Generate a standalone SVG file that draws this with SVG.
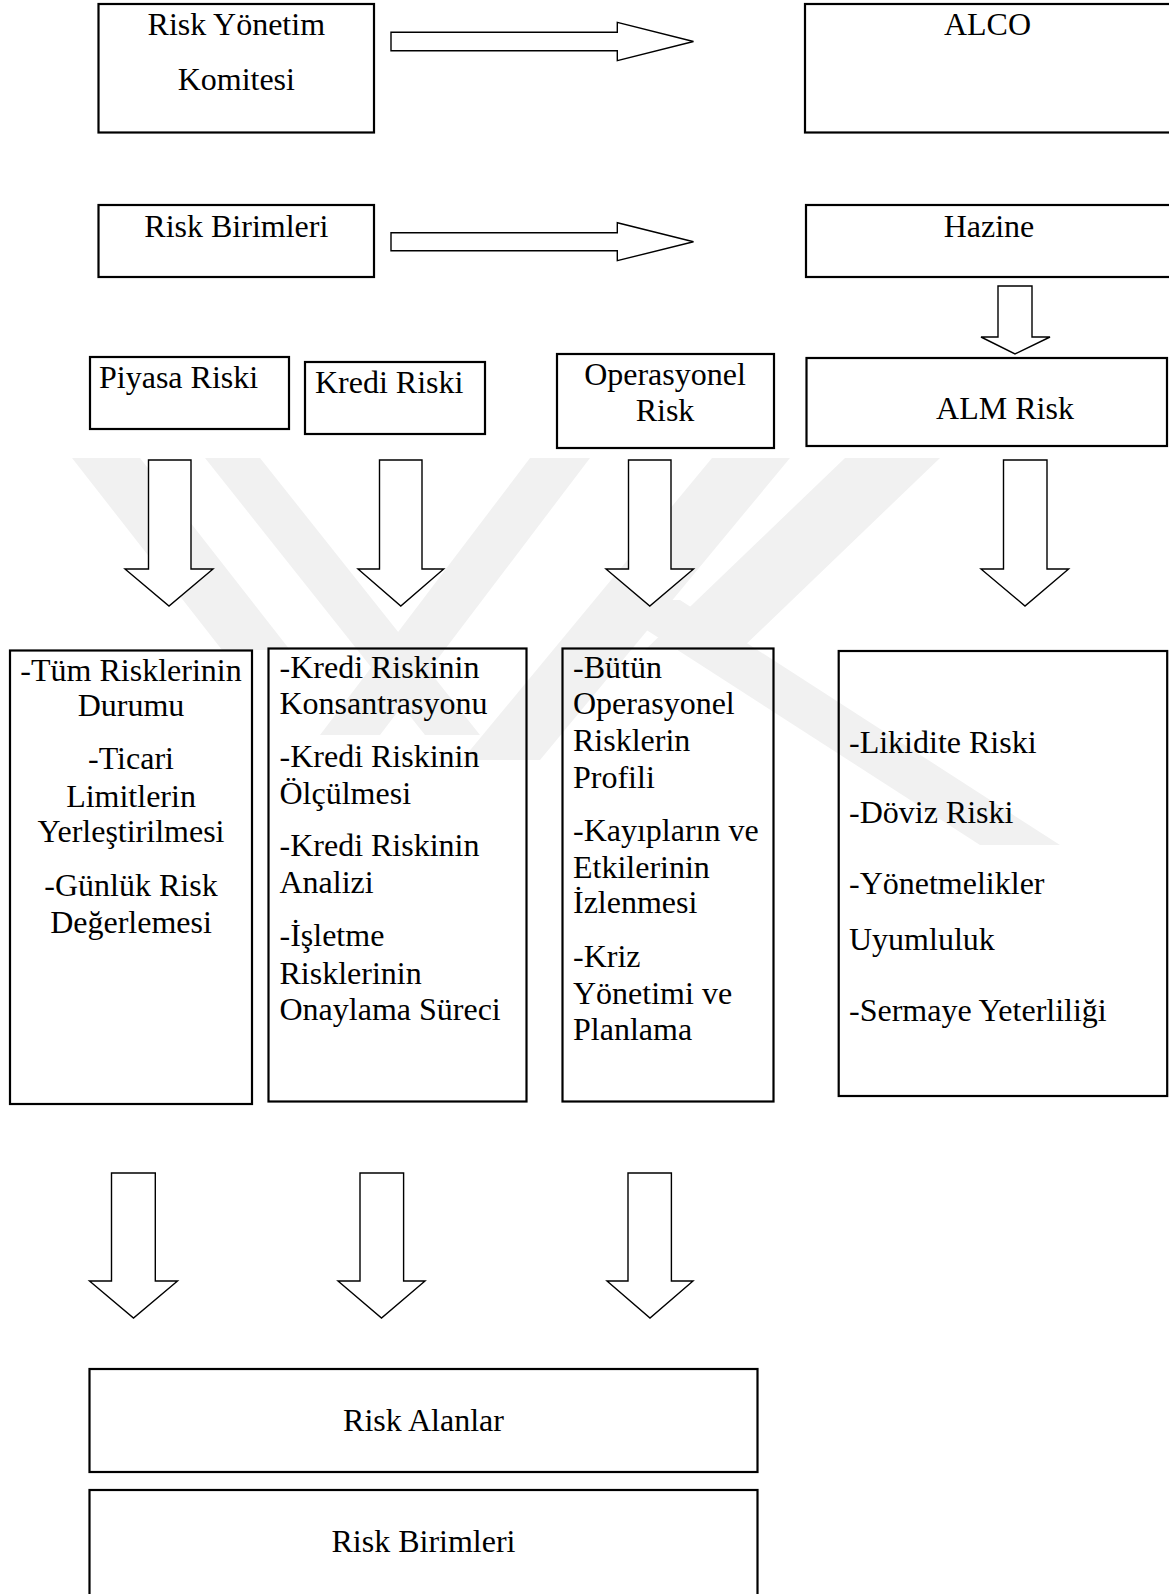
<svg xmlns="http://www.w3.org/2000/svg" width="1169" height="1594" viewBox="0 0 1169 1594">
<style>
.box{fill:none;stroke:#000;stroke-width:2.2}
.arr{fill:#fff;stroke:#000;stroke-width:1.4;stroke-linejoin:miter}
.t{font-family:"Liberation Serif","Times New Roman",serif;font-size:32px;fill:#000}
.c{text-anchor:middle}
.wm{fill:#f1f1f1}
</style>
<rect x="0" y="0" width="1169" height="1594" fill="#fff"/>
<g id="watermark">
<polygon class="wm" points="72,458 140,458 290,650 222,650"/>
<polygon class="wm" points="205,458 260,458 480,735 425,735"/>
<polygon class="wm" points="530,458 590,458 380,735 320,735"/>
<polygon class="wm" points="712,458 790,458 540,760 462,760"/>
<polygon class="wm" points="845,458 940,458 740,650 645,650"/>
<polygon class="wm" points="600,600 680,600 1060,845 980,845"/>
</g>
<g id="connectors">
<polygon class="arr" points="391,32.3 617.3,32.3 617.3,22.3 693.5,41.5 617.3,60.7 617.3,50.7 391,50.7"/>
<polygon class="arr" points="391,232.7 617.3,232.7 617.3,222.7 693.5,241.7 617.3,260.7 617.3,250.7 391,250.7"/>
<polygon class="arr" points="998,286 1032,286 1032,337 1050,337 1015,354 981,337 998,337"/>
<polygon class="arr" points="148.5,460 191,460 191,569 213,569 169,606 125,569 148.5,569"/>
<polygon class="arr" points="379.5,460 422,460 422,569 443.7,569 400.8,606 358,569 379.5,569"/>
<polygon class="arr" points="628.5,460 671,460 671,569 693.5,569 649.8,606 606,569 628.5,569"/>
<polygon class="arr" points="1003.5,460 1047,460 1047,569 1068.6,569 1025,606 981,569 1003.5,569"/>
<polygon class="arr" points="111.5,1173 155.3,1173 155.3,1281 177.5,1281 133.5,1318 89.5,1281 111.5,1281"/>
<polygon class="arr" points="360,1173 403.6,1173 403.6,1281 425,1281 381.5,1318 338,1281 360,1281"/>
<polygon class="arr" points="628,1173 671.4,1173 671.4,1281 693,1281 650,1318 607,1281 628,1281"/>
</g>
<g id="n-risk-yonetim">
<rect class="box" x="98.5" y="4" width="275.5" height="128.5"/>
<text class="t c" x="236.3" y="35">Risk Yönetim</text>
<text class="t c" x="236.3" y="90">Komitesi</text>
</g>
<g id="n-alco">
<rect class="box" x="805" y="4" width="375" height="128.5"/>
<text class="t c" x="987.5" y="35">ALCO</text>
</g>
<g id="n-risk-birimleri-top">
<rect class="box" x="98.5" y="205" width="275.5" height="72"/>
<text class="t c" x="236.3" y="236.5">Risk Birimleri</text>
</g>
<g id="n-hazine">
<rect class="box" x="806" y="205" width="375" height="72"/>
<text class="t c" x="989" y="236.5">Hazine</text>
</g>
<g id="n-piyasa">
<rect class="box" x="90" y="357" width="199" height="72"/>
<text class="t" x="99" y="388">Piyasa Riski</text>
</g>
<g id="n-kredi">
<rect class="box" x="305" y="362" width="180" height="72"/>
<text class="t" x="315" y="393">Kredi Riski</text>
</g>
<g id="n-operasyonel">
<rect class="box" x="557" y="354" width="217" height="94"/>
<text class="t c" x="665" y="385">Operasyonel</text>
<text class="t c" x="665" y="421">Risk</text>
</g>
<g id="n-alm">
<rect class="box" x="806.5" y="358" width="360.5" height="88"/>
<text class="t c" x="1005" y="419">ALM Risk</text>
</g>
<g id="n-piyasa-detail">
<rect class="box" x="10" y="650.5" width="242" height="453.5"/>
<text class="t c" x="131" y="680.5">-Tüm Risklerinin</text>
<text class="t c" x="131" y="716">Durumu</text>
<text class="t c" x="131" y="769">-Ticari</text>
<text class="t c" x="131" y="806.5">Limitlerin</text>
<text class="t c" x="131" y="842">Yerleştirilmesi</text>
<text class="t c" x="131" y="896">-Günlük Risk</text>
<text class="t c" x="131" y="932.5">Değerlemesi</text>
</g>
<g id="n-kredi-detail">
<rect class="box" x="268.5" y="648.5" width="258" height="453"/>
<text class="t" x="279.5" y="677.5">-Kredi Riskinin</text>
<text class="t" x="279.5" y="714">Konsantrasyonu</text>
<text class="t" x="279.5" y="767">-Kredi Riskinin</text>
<text class="t" x="279.5" y="803.5">Ölçülmesi</text>
<text class="t" x="279.5" y="856">-Kredi Riskinin</text>
<text class="t" x="279.5" y="893">Analizi</text>
<text class="t" x="279.5" y="946">-İşletme</text>
<text class="t" x="279.5" y="983.5">Risklerinin</text>
<text class="t" x="279.5" y="1020">Onaylama Süreci</text>
</g>
<g id="n-operasyonel-detail">
<rect class="box" x="562.5" y="648.5" width="211" height="453"/>
<text class="t" x="573" y="677.5">-Bütün</text>
<text class="t" x="573" y="714">Operasyonel</text>
<text class="t" x="573" y="750.5">Risklerin</text>
<text class="t" x="573" y="788">Profili</text>
<text class="t" x="573" y="841">-Kayıpların ve</text>
<text class="t" x="573" y="877.5">Etkilerinin</text>
<text class="t" x="573" y="913">İzlenmesi</text>
<text class="t" x="573" y="967">-Kriz</text>
<text class="t" x="573" y="1003.5">Yönetimi ve</text>
<text class="t" x="573" y="1040">Planlama</text>
</g>
<g id="n-alm-detail">
<rect class="box" x="838.7" y="651" width="328.5" height="445"/>
<text class="t" x="849" y="752.5">-Likidite Riski</text>
<text class="t" x="849" y="822.5">-Döviz Riski</text>
<text class="t" x="849" y="894">-Yönetmelikler</text>
<text class="t" x="849" y="949.5">Uyumluluk</text>
<text class="t" x="849" y="1021">-Sermaye Yeterliliği</text>
</g>
<g id="n-risk-alanlar">
<rect class="box" x="89.5" y="1369" width="668" height="103"/>
<text class="t c" x="423.5" y="1431">Risk Alanlar</text>
</g>
<g id="n-risk-birimleri-bottom">
<rect class="box" x="89.5" y="1490" width="668" height="120"/>
<text class="t c" x="423.5" y="1552">Risk Birimleri</text>
</g>
</svg>
